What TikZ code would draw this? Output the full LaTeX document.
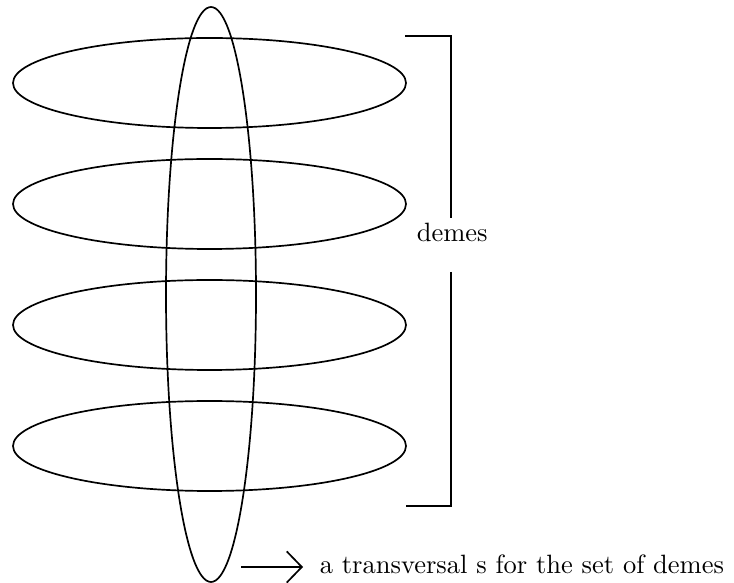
\documentclass[tikz,border=0pt]{standalone}
\usetikzlibrary{shapes.geometric,arrows.meta}
\begin{document}
\begin{tikzpicture}[x=0.385pt,y=-0.385pt,
  line width=0.65pt,
  deme/.style={draw,ellipse,inner sep=0pt,minimum width={393*0.385pt},minimum height={90*0.385pt}},
  trans/.style={draw,ellipse,inner sep=0pt,minimum width={90*0.385pt},minimum height={575*0.385pt}},
  bracketline/.style={line width=0.8pt},
  lbl/.style={inner sep=0pt,font=\fontsize{10.2}{12}\selectfont}]
\useasboundingbox (0,0) rectangle (734,583);
\node[deme] (d1) at (209.5,83) {};
\node[deme] (d2) at (209.5,204) {};
\node[deme] (d3) at (209.5,325) {};
\node[deme] (d4) at (209.5,446) {};
\node[trans] (t) at (211,294.5) {};
\coordinate (bt1) at (405,36);
\coordinate (bt2) at (451,36);
\coordinate (bb1) at (406,506);
\coordinate (bb2) at (451,506);
\node[lbl,anchor=base west] (demes) at (416,242) {demes};
\draw[bracketline] (bt1) -- (bt2) -- (bt2 |- 0,218);
\draw[bracketline] (bb2 |- 0,272) -- (bb2) -- (bb1);
\node[lbl,anchor=base west] (txt) at (319,573) {a transversal s for the set of demes};
\coordinate (as) at (241,567);
\coordinate (ae) at (303,567);
\draw[-{Straight Barb[length=5.8pt,width=12pt]}] (as) -- (ae);
\end{tikzpicture}
\end{document}
